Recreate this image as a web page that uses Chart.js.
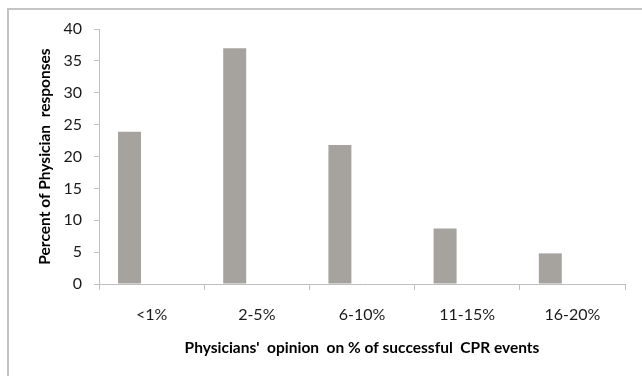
<!DOCTYPE html>
<html>
<head>
<meta charset="utf-8">
<script src="https://cdn.jsdelivr.net/npm/chart.js@4"></script>
<style>
    body { margin: 0; background: #fff; }
    #caixa { position: relative; width: 642px; height: 376px; }
    #moldura { position: absolute; left: 7px; top: 8px; right: -10px; bottom: -10px; border-left: 2px solid #c4c4c4; border-top: 2px solid #c4c4c4; }
</style>
</head>
<body>
<div id="caixa">
    <div id="moldura"></div>
    <canvas id="grafico"></canvas>
</div>
<script>
var categorias = ["<1%", "2-5%", "6-10%", "11-15%", "16-20%"];
var respostas = [23.9, 37, 21.8, 8.7, 4.8];
var vazio = [null, null, null, null, null];
var ticksY = [0, 5, 10, 15, 20, 25, 30, 35, 40];

var corEixo = '#bfbfbf';
var fonteTick = { size: 16, family: "Lato" };
var fonteTitulo = { size: 15.5, weight: 'bold', family: "Lato" };

var ctx = document.getElementById("grafico").getContext("2d");

new Chart(ctx, {
    type: "bar",
    data: {
        labels: categorias,
        datasets: [{
            label: "Percent",
            backgroundColor: "#a6a29e",
            borderWidth: 0,
            data: respostas,
            categoryPercentage: 0.84,
            barPercentage: 0.52
        }, {
            label: "",
            backgroundColor: "rgba(0,0,0,0)",
            data: vazio,
            categoryPercentage: 0.84,
            barPercentage: 0.52
        }]
    },
    options: {
        responsive: true,
        maintainAspectRatio: false,
        animation: false,
        layout: {
            padding: { left: 0, top: 29, right: 17, bottom: 0 }
        },
        plugins: {
            legend: { display: false },
            tooltip: { enabled: false }
        },
        scales: {
            y: {
                min: 0,
                max: 40,
                afterFit: function(escala) { escala.width = 99; },
                afterBuildTicks: function(escala) {
                    escala.ticks = ticksY.map(function(v) { return { value: v }; });
                },
                border: { display: true, color: corEixo, width: 1 },
                grid: {
                    display: true,
                    drawOnChartArea: false,
                    drawTicks: true,
                    tickLength: 5,
                    color: corEixo
                },
                ticks: {
                    color: '#1a1a1a',
                    padding: 12,
                    font: fonteTick
                },
                title: {
                    display: true,
                    text: "Percent of Physician  responses",
                    color: '#000',
                    font: fonteTitulo,
                    padding: { top: 36, bottom: 0 }
                }
            },
            x: {
                afterFit: function(escala) { escala.height = 92; },
                border: { display: true, color: corEixo, width: 1 },
                grid: {
                    display: true,
                    offset: true,
                    drawOnChartArea: false,
                    drawTicks: true,
                    tickLength: 6,
                    color: corEixo
                },
                ticks: {
                    color: '#1a1a1a',
                    padding: 15,
                    maxRotation: 0,
                    font: fonteTick
                },
                title: {
                    display: true,
                    text: "Physicians'  opinion  on % of successful  CPR events",
                    color: '#000',
                    font: fonteTitulo,
                    padding: { top: 0, bottom: 19 }
                }
            }
        }
    }
});
</script>
</body>
</html>
